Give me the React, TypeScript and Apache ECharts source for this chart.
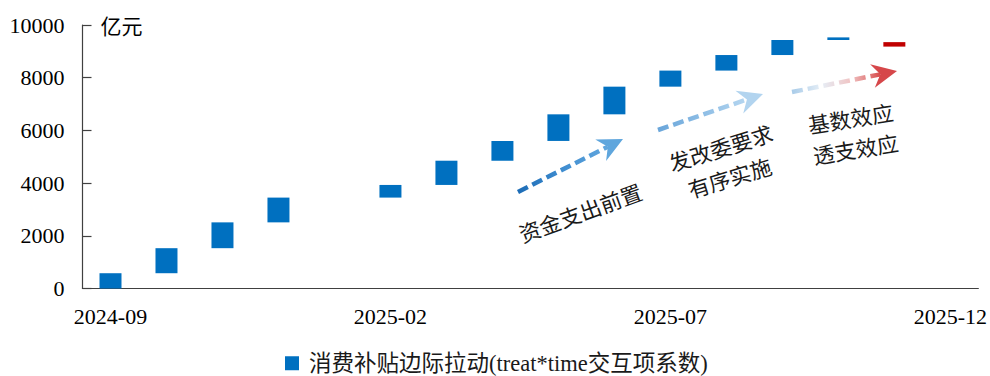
import React, { useEffect, useRef } from "react";
import * as echarts from "echarts";

const months = [
  "2024-09", "2024-10", "2024-11", "2024-12", "2025-01", "2025-02", "2025-03", "2025-04",
  "2025-05", "2025-06", "2025-07", "2025-08", "2025-09", "2025-10", "2025-11", "2025-12",
];
// floating bar range (亿元): lower and upper ends
const lows: (number | null)[] = [0, 580, 1530, 2510, null, 3450, 3930, 4850, 5600, 6610, 7660, 8270, 8860, 9430, 9180, null];
const highs: (number | null)[] = [580, 1530, 2510, 3450, null, 3930, 4850, 5600, 6610, 7660, 8270, 8860, 9430, 9530, 9350, null];
const redMonths = ["2025-11"];
const yTicks = [0, 2000, 4000, 6000, 8000, 10000];
const seriesName = "消费补贴边际拉动(treat*time交互项系数)";
const notes = ["资金支出前置", "发改委要求\n有序实施", "基数效应\n透支效应"];

const SERIF = "'Liberation Serif', 'Times New Roman', 'Noto Sans CJK SC', serif";
const CJK = "'Noto Sans CJK SC', sans-serif";

function arrow(tail: number[], tip: number[], lineColors: string[], headColor: string) {
  const dx = tip[0] - tail[0];
  const dy = tip[1] - tail[1];
  const len = Math.sqrt(dx * dx + dy * dy);
  const ux = dx / len, uy = dy / len;
  const nx = -uy, ny = ux;
  const L = 25, W = 12, d = 8;
  const back = [tip[0] - ux * L, tip[1] - uy * L];
  const notch = [tip[0] - ux * (L - d), tip[1] - uy * (L - d)];
  const stops = lineColors.map((c, i) => ({ offset: i / (lineColors.length - 1), color: c }));
  return [
    {
      type: "line",
      silent: true,
      shape: { x1: tail[0], y1: tail[1], x2: notch[0], y2: notch[1] },
      style: {
        stroke: new echarts.graphic.LinearGradient(0, 0, 1, 0, stops),
        lineWidth: 4.5,
        lineDash: [11, 5],
      },
    },
    {
      type: "polygon",
      silent: true,
      shape: {
        points: [
          tip,
          [back[0] + nx * W, back[1] + ny * W],
          notch,
          [back[0] - nx * W, back[1] - ny * W],
        ],
      },
      style: { fill: headColor },
    },
  ];
}

function note(text: string, x: number, y: number, deg: number) {
  return {
    type: "text",
    silent: true,
    x,
    y,
    rotation: (deg * Math.PI) / 180,
    style: {
      text,
      fontSize: 21.5,
      fontFamily: CJK,
      fill: "#1a1a1a",
      align: "center",
      verticalAlign: "middle",
      lineHeight: 31,
    },
  };
}

export default function App() {
  const ref = useRef<HTMLDivElement>(null);
  useEffect(() => {
    if (!ref.current) return;
    const chart = echarts.init(ref.current, null, { renderer: "svg" });
    const base = lows.map((v) => (v === null ? "-" : v));
    const inc = highs.map((h, i) => {
      const l = lows[i];
      if (h === null || l === null) return "-";
      const item: any = { value: h - l };
      if (redMonths.includes(months[i])) item.itemStyle = { color: "#C00000" };
      return item;
    });
    chart.setOption({
      animation: false,
      backgroundColor: "#ffffff",
      grid: { left: 82.5, right: 11.5, top: 25, bottom: 87.5, containLabel: false },
      legend: {
        data: [seriesName],
        left: 280,
        top: 347,
        icon: "rect",
        itemWidth: 14,
        itemHeight: 14,
        itemGap: 10,
        textStyle: { fontSize: 22.5, fontFamily: SERIF, color: "#1a1a1a", padding: [0, 0, 0, 5] },
      },
      xAxis: {
        type: "category",
        data: months,
        boundaryGap: true,
        axisLine: { lineStyle: { color: "#404040", width: 1.2 } },
        axisTick: { inside: true, length: 9, interval: 4, alignWithLabel: false, lineStyle: { color: "#404040", width: 1.2 } },
        axisLabel: { interval: 4, fontSize: 22, fontFamily: SERIF, color: "#000", margin: 17 },
        splitLine: { show: false },
      },
      yAxis: {
        type: "value",
        min: yTicks[0],
        max: yTicks[yTicks.length - 1],
        interval: 2000,
        name: "亿元",
        nameLocation: "end",
        nameGap: 0,
        nameTextStyle: { fontSize: 21, fontFamily: CJK, color: "#000", align: "left", verticalAlign: "middle", padding: [0, 0, 0, 18] },
        axisLine: { show: true, lineStyle: { color: "#404040", width: 1.2 } },
        axisTick: { show: true, inside: true, length: 9, lineStyle: { color: "#404040", width: 1.2 } },
        axisLabel: { fontSize: 22, fontFamily: SERIF, color: "#000", margin: 18, formatter: (v: number) => String(v) },
        splitLine: { show: false },
      },
      series: [
        {
          name: "base",
          type: "bar",
          stack: "w",
          barWidth: 22,
          silent: true,
          itemStyle: { color: "transparent" },
          data: base,
        },
        {
          name: seriesName,
          type: "bar",
          stack: "w",
          barWidth: 22,
          itemStyle: { color: "#0070C0" },
          data: inc,
        },
      ],
      graphic: [
        ...arrow([518, 192], [623, 139], ["#1c6cb6", "#3f8dd0", "#62a7de"], "#5fa6dd"),
        ...arrow([658, 130], [763, 94], ["#6aa6da", "#8dbde5", "#b5d6f0"], "#b2d4ef"),
        ...arrow([792, 92], [897, 71], ["#a9cce9", "#e6eef6", "#f0c4c4", "#d84c4c"], "#d6474a"),
        note(notes[0], 580, 212, 20),
        note(notes[1], 725, 162, 17),
        note(notes[2], 853, 133, 9),
      ],
    });
    return () => chart.dispose();
  }, []);
  return <div ref={ref} style={{ width: 990, height: 376, position: "absolute", left: 0, top: 0 }} />;
}
